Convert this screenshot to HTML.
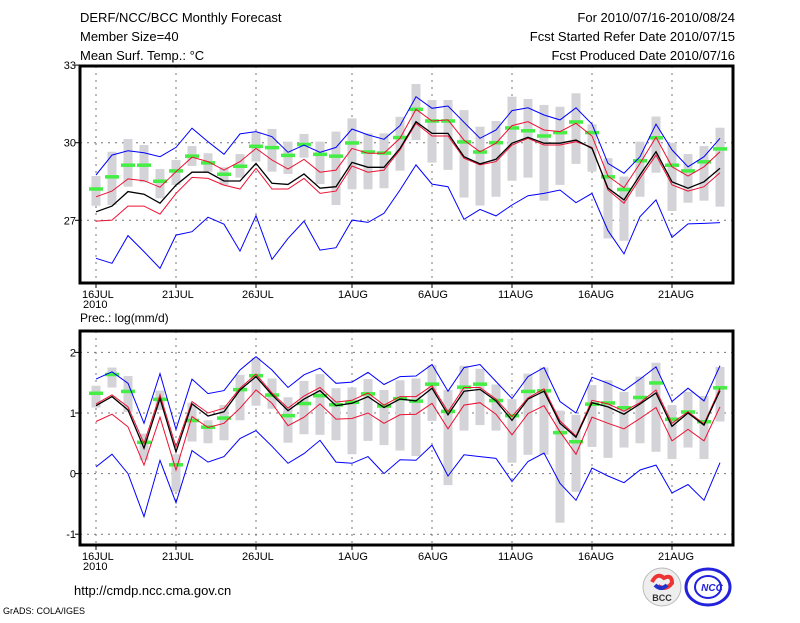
<!DOCTYPE html>
<html><head><meta charset="utf-8"><style>
body{margin:0;background:#fff;}
svg text{font-family:"Liberation Sans","DejaVu Sans",sans-serif;}
</style></head><body>
<svg id="chart" width="800" height="618" viewBox="0 0 800 618" xmlns="http://www.w3.org/2000/svg">
<rect width="800" height="618" fill="#fff"/>
<text x="80" y="22" font-size="13">DERF/NCC/BCC Monthly Forecast</text>
<text x="80" y="41" font-size="13">Member Size=40</text>
<text x="80" y="60" font-size="13">Mean Surf. Temp.: °C</text>
<text x="735" y="22" font-size="13" text-anchor="end">For 2010/07/16-2010/08/24</text>
<text x="735" y="41" font-size="13" text-anchor="end">Fcst Started Refer Date 2010/07/15</text>
<text x="735" y="60" font-size="13" text-anchor="end">Fcst Produced Date 2010/07/16</text>
<text x="80" y="322" font-size="12">Prec.: log(mm/d)</text>
<text x="74" y="595" font-size="13">http://cmdp.ncc.cma.gov.cn</text>
<text x="3" y="614" font-size="9">GrADS: COLA/IGES</text>
<g>
<circle cx="662" cy="587" r="19" fill="#eee" stroke="#bbb"/>
<path d="M652 582 q5 -10 12 -4 q8 -4 8 5 q-6 8 -14 3" fill="none" stroke="#e33" stroke-width="4"/>
<path d="M655 585 q6 6 12 0" fill="none" stroke="#23c" stroke-width="4"/>
<text x="662" y="601" font-size="9" font-weight="bold" text-anchor="middle" fill="#333">BCC</text>
</g>
<g>
<ellipse cx="708" cy="587" rx="22" ry="18" fill="none" stroke="#22d" stroke-width="3"/>
<ellipse cx="708" cy="587" rx="13" ry="11" fill="none" stroke="#22d" stroke-width="2"/>
<text x="712" y="591" font-size="10" font-weight="bold" font-style="italic" text-anchor="middle" fill="#22d">NCC</text>
</g>
<g id="plot"></g>
</svg>
<script>
const days=[];for(let i=0;i<40;i++)days.push(i);
const xTickDays=[0,5,10,16,21,26,31,36];
const xTickLabels=["16JUL","21JUL","26JUL","1AUG","6AUG","11AUG","16AUG","21AUG"];
const tTicks=[27,30,33];
const pTicks=[-1,0,1,2];
const tMax=[28.75,29.52,29.69,29.61,29.46,29.82,30.56,30.04,29.55,30.34,30.43,30.23,29.63,29.91,29.63,29.82,30.53,30.3,30.13,30.66,31.78,31.33,31.42,30.79,30.17,30.49,31.24,31.35,31.07,30.88,31.35,30.72,29.2,28.82,29.46,30.72,29.72,29.07,29.46,30.17];
const tMin=[25.53,25.34,26.41,25.79,25.14,26.43,26.56,27.12,26.85,25.81,27.18,25.49,26.3,26.97,25.85,25.94,27.01,26.92,27.27,28.17,29.14,28.4,28.3,27.04,27.42,27.17,27.59,27.95,28.04,28.17,27.68,28.04,26.6,25.7,27.14,27.79,26.34,26.86,26.88,26.91];
const tMean=[27.33,27.55,28.11,28.01,27.66,28.36,28.86,28.86,28.52,28.52,29.2,28.43,28.39,28.79,28.24,28.3,29.24,29.05,29.05,29.78,30.81,30.36,30.36,29.46,29.18,29.36,29.98,30.21,29.98,29.98,30.1,29.78,28.24,27.79,28.75,29.65,28.49,28.24,28.49,29.01];
const tRedHi=[27.91,28.13,28.6,28.53,28.28,28.88,29.44,29.27,28.94,29.27,29.78,29.33,28.98,29.36,28.86,28.94,29.78,29.59,29.59,30.17,31.29,30.84,30.88,30.1,29.65,29.98,30.66,30.81,30.49,30.43,30.75,30.26,28.71,28.26,29.2,30.21,29.07,28.71,29.07,29.65];
const tRedLo=[26.97,27.01,27.55,27.55,27.24,28.04,28.66,28.62,28.36,28.21,29.01,28.21,28.21,28.62,28.04,28.13,29.1,28.86,28.94,29.72,30.75,30.26,30.26,29.4,29.14,29.27,29.91,30.17,29.91,29.91,30.04,29.82,28.17,27.66,28.62,29.52,28.37,28.13,28.3,28.84];
const tMed=[28.22,28.69,29.14,29.14,28.52,28.92,29.49,29.23,28.79,29.1,29.87,29.82,29.52,29.94,29.56,29.49,30.0,29.65,29.61,30.21,31.3,30.85,30.85,30.04,29.65,30.01,30.58,30.47,30.27,30.4,30.81,30.4,28.69,28.2,29.31,30.2,29.14,28.92,29.27,29.77];
const tBoxHi=[28.71,29.65,30.14,29.91,28.98,29.33,29.87,29.59,29.05,29.56,30.39,30.53,30.04,30.34,30.04,30.43,30.94,30.36,30.36,31.0,32.27,31.65,31.65,31.26,30.62,30.84,31.78,31.69,31.46,31.39,31.91,30.71,29.4,28.69,30.04,31.01,30.0,29.56,29.87,30.58];
const tBoxLo=[27.56,27.59,28.3,28.47,27.85,28.36,29.1,28.88,28.36,28.65,29.27,28.88,28.79,29.42,28.4,27.59,28.2,28.2,28.24,28.92,30.1,29.23,28.95,27.88,27.57,27.91,28.53,28.65,27.76,28.37,29.18,28.88,26.3,26.21,27.91,28.84,27.36,27.68,27.76,27.53];
const pMax=[1.56,1.68,1.49,0.83,1.65,0.73,1.56,1.32,1.37,1.71,1.93,1.71,1.42,1.63,1.74,1.49,1.51,1.67,1.47,1.6,1.61,1.8,1.36,1.75,1.8,1.52,1.24,1.6,1.75,1.19,1.0,1.59,1.49,1.37,1.56,1.76,1.19,1.41,1.2,1.78];
const pMin=[0.11,0.32,0.0,-0.71,0.22,-0.48,0.38,0.19,0.28,0.58,0.71,0.45,0.17,0.33,0.55,0.19,0.17,0.28,0.0,0.23,0.22,0.47,-0.04,0.31,0.28,0.25,-0.13,0.2,0.34,-0.16,-0.44,0.09,-0.04,-0.15,0.06,0.14,-0.32,-0.18,-0.44,0.18];
const pMean=[1.12,1.27,1.05,0.42,1.24,0.36,1.15,0.95,1.02,1.38,1.6,1.3,1.04,1.23,1.37,1.12,1.16,1.27,1.09,1.23,1.2,1.41,0.97,1.36,1.39,1.2,0.88,1.23,1.36,0.83,0.6,1.17,1.1,0.98,1.15,1.33,0.78,1.0,0.8,1.37];
const pRedHi=[1.15,1.3,1.1,0.5,1.3,0.44,1.19,1.0,1.08,1.41,1.64,1.33,1.08,1.28,1.42,1.18,1.21,1.33,1.13,1.27,1.27,1.45,1.02,1.42,1.42,1.23,0.94,1.25,1.4,0.87,0.62,1.21,1.15,1.03,1.17,1.38,0.83,1.02,0.82,1.41];
const pRedLo=[0.86,0.98,0.77,0.14,0.93,0.06,0.94,0.76,0.83,1.08,1.38,1.16,0.79,0.93,1.15,0.9,0.91,1.0,0.83,0.97,0.98,1.16,0.74,1.13,1.17,0.98,0.64,0.99,1.12,0.69,0.32,0.93,0.83,0.74,0.91,1.09,0.54,0.73,0.54,1.1];
const pMed=[1.33,1.64,1.36,0.52,1.23,0.15,0.88,0.77,0.92,1.39,1.62,1.3,0.96,1.16,1.29,1.14,1.18,1.32,1.12,1.24,1.2,1.48,1.03,1.43,1.48,1.21,0.96,1.36,1.37,0.68,0.53,1.15,1.17,1.09,1.26,1.5,0.9,1.02,0.86,1.42];
const pBoxHi=[1.45,1.75,1.61,0.66,1.37,0.32,1.17,0.88,1.13,1.63,1.91,1.57,1.26,1.53,1.64,1.41,1.42,1.56,1.38,1.54,1.57,1.79,1.38,1.78,1.73,1.47,1.23,1.65,1.75,1.04,0.97,1.46,1.54,1.35,1.6,1.83,1.13,1.35,1.28,1.76];
const pBoxLo=[1.09,1.42,1.02,0.22,1.05,-0.3,0.53,0.5,0.55,0.88,1.12,1.07,0.51,0.65,0.64,0.55,0.32,0.54,0.47,0.38,0.29,0.87,-0.19,0.71,0.8,0.71,0.18,0.31,0.31,-0.81,-0.3,0.44,0.26,0.43,0.5,0.36,0.24,0.43,0.24,0.86];

const NS='http://www.w3.org/2000/svg';
const plot=document.getElementById('plot');
const L=80,R=733;
function xS(d){return 96+16*d;}
function yT(v){return 142.7-(v-30)*25.87;}
function yP(v){return 413-(v-1)*60.6;}
function mk(tag,attrs){const e=document.createElementNS(NS,tag);for(const k in attrs)e.setAttribute(k,attrs[k]);plot.appendChild(e);return e;}

function panel(prefix,top,bot,ys,ticks,boxHi,boxLo,med,series){
  // grid
  ticks.forEach(t=>{const y=ys(t);
    const g=mk('line',{x1:L,x2:R,y1:y,y2:y,stroke:'#777','stroke-dasharray':'2,5','stroke-width':1});
    
    
    const tk=mk('line',{x1:L-5,x2:L,y1:y,y2:y,stroke:'#000'});
    
    
    const lb=mk('text',{x:L-4,y:y+4,'font-size':11,'text-anchor':'end'});lb.textContent=String(t);
    
    
  });
  xTickDays.forEach((d,i)=>{const x=xS(d);
    const g=mk('line',{x1:x,x2:x,y1:top,y2:bot,stroke:'#777','stroke-dasharray':'2,5','stroke-width':1});
    
    
    const tk=mk('line',{x1:x,x2:x,y1:bot,y2:bot+5,stroke:'#000'});
    
    
    const lb=mk('text',{x:x-14,y:bot+15,'font-size':11});lb.textContent=xTickLabels[i];
    
    
  });
  const yr=mk('text',{x:xS(0)-13,y:bot+25,'font-size':11});yr.textContent='2010';
  
  
  days.forEach(d=>{
    const y1=ys(boxHi[d]),y2=ys(boxLo[d]);
    const b=mk('rect',{x:xS(d)-4.5,y:y1,width:9,height:y2-y1,fill:'#d3d3d8'});
    
    
  });
  days.forEach(d=>{
    const m=mk('rect',{x:xS(d)-7,y:ys(med[d])-1.5,width:14,height:3.5,fill:'#44ee44'});
    
    
  });
  series.forEach(s=>{
    const pts=days.map(d=>xS(d)+','+ys(s.v[d]).toFixed(1)).join(' ');
    const p=mk('polyline',{points:pts,fill:'none',stroke:s.c,'stroke-width':s.w||1});
    
    
  });
  const f=mk('rect',{x:L,y:top,width:R-L,height:bot-top,fill:'none',stroke:'#000','stroke-width':3});
  
  
}
panel('temp',66,283,yT,tTicks,tBoxHi,tBoxLo,tMed,[
 {n:'max-line',v:tMax,c:'#0000ff'},{n:'min-line',v:tMin,c:'#0000ff'},
 {n:'upper-red-line',v:tRedHi,c:'#ee1133'},{n:'lower-red-line',v:tRedLo,c:'#ee1133'},
 {n:'mean-line',v:tMean,c:'#000',w:1.3}]);
panel('prec',331,545,yP,pTicks,pBoxHi,pBoxLo,pMed,[
 {n:'max-line',v:pMax,c:'#0000ff'},{n:'min-line',v:pMin,c:'#0000ff'},
 {n:'upper-red-line',v:pRedHi,c:'#ee1133'},{n:'lower-red-line',v:pRedLo,c:'#ee1133'},
 {n:'mean-line',v:pMean,c:'#000',w:1.3}]);
</script>
</body></html>
